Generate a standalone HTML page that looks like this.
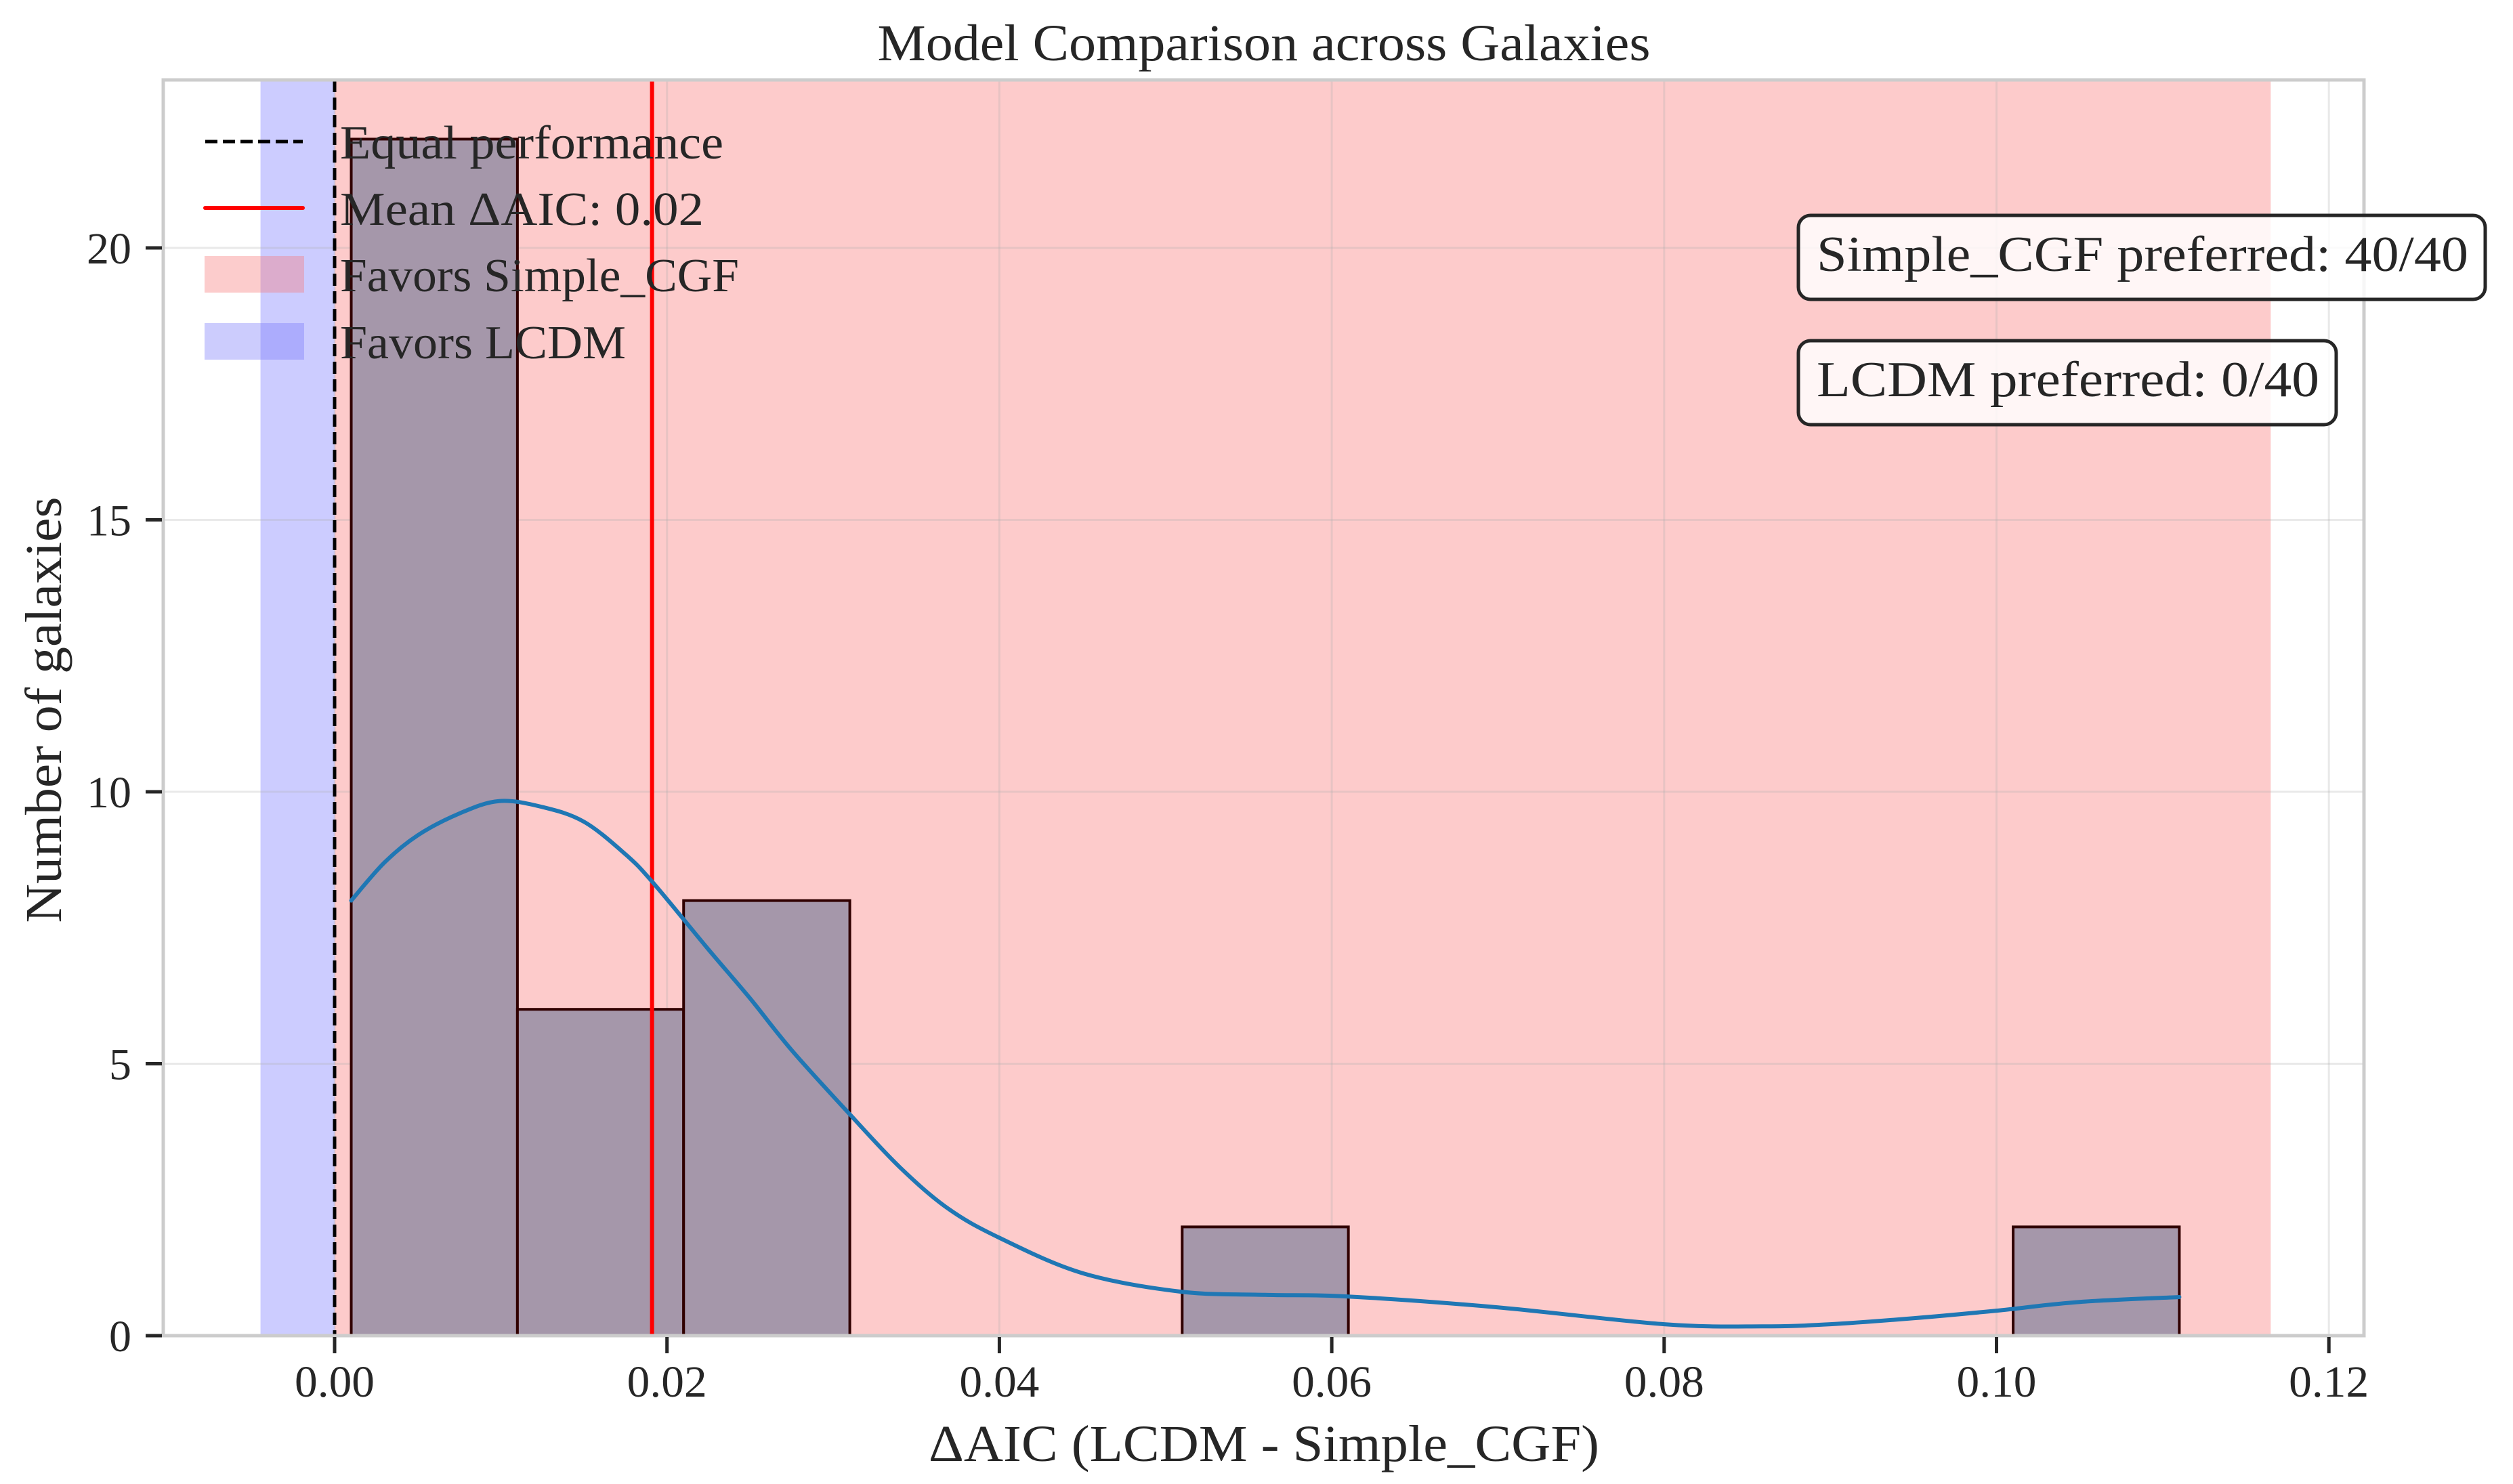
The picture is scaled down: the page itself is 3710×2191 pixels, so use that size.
<!DOCTYPE html>
<html><head><meta charset="utf-8"><style>
html,body{margin:0;padding:0;background:#fff}
svg{display:block}
text{font-family:"Liberation Serif","DejaVu Serif",serif;fill:#262626}
</style></head><body>
<svg id="chart" xmlns="http://www.w3.org/2000/svg" width="3710" height="2191" viewBox="0 0 3710 2191">
<rect x="0" y="0" width="3710" height="2191" fill="#fff"/>
<g id="plot"></g>
</svg>
<script>
const binEdges = [0.001, 0.011, 0.021, 0.031, 0.041, 0.051, 0.061, 0.071, 0.081, 0.091, 0.101, 0.111];
const counts = [22, 6, 8, 0, 0, 2, 0, 0, 0, 0, 2];
const kdeX = [0.001, 0.003, 0.005, 0.0075, 0.0099, 0.0125, 0.015, 0.0175, 0.0191, 0.0225, 0.025, 0.0275, 0.031, 0.034, 0.0369, 0.04, 0.045, 0.0509, 0.056, 0.061, 0.07, 0.08, 0.0859, 0.09, 0.095, 0.1, 0.105, 0.111];
const kdeY = [8.0, 8.7, 9.2, 9.6, 9.83, 9.72, 9.45, 8.85, 8.35, 7.1, 6.2, 5.25, 4.07, 3.1, 2.34, 1.8, 1.15, 0.81, 0.75, 0.72, 0.52, 0.21, 0.17, 0.21, 0.32, 0.46, 0.62, 0.71];
const meanValue = 0.0191;
const blueSpan = [-0.00446, 0];
const redSpan = [0, 0.1165];
const xTicks = [0, 0.02, 0.04, 0.06, 0.08, 0.10, 0.12];
const xTickLabels = ["0.00", "0.02", "0.04", "0.06", "0.08", "0.10", "0.12"];
const yTicks = [0, 5, 10, 15, 20];
const yTickLabels = ["0", "5", "10", "15", "20"];

const L = 241, R = 3490, T = 118, B = 1972;
const X0 = 494, XPER = 24535;
const YPER = 80.3;
function xs(v){ return X0 + v * XPER; }
function ys(v){ return B - v * YPER; }

const NS = "http://www.w3.org/2000/svg";
const g = document.getElementById('plot');
function mk(tag, attrs, parent){
  const e = document.createElementNS(NS, tag);
  for (const k in attrs) e.setAttribute(k, attrs[k]);
  (parent || g).appendChild(e);
  return e;
}

let e = mk('rect', {x: xs(blueSpan[0]), y: T, width: xs(blueSpan[1]) - xs(blueSpan[0]), height: B - T, fill: '#ccccff'});


e = mk('rect', {x: xs(redSpan[0]), y: T, width: xs(redSpan[1]) - xs(redSpan[0]), height: B - T, fill: '#fdcbcb'});



xTicks.forEach((t) => {
  const l = mk('line', {x1: xs(t), x2: xs(t), y1: T, y2: B, stroke: 'rgba(176,176,176,0.28)', 'stroke-width': 3});
  
  
});
yTicks.forEach((t) => {
  const l = mk('line', {x1: L, x2: R, y1: ys(t), y2: ys(t), stroke: 'rgba(176,176,176,0.28)', 'stroke-width': 3});
  
  
});

counts.forEach((c, i) => {
  if (c <= 0) return;
  const x1 = xs(binEdges[i]), x2 = xs(binEdges[i + 1]);
  const r = mk('rect', {x: x1, y: ys(c), width: x2 - x1, height: ys(0) - ys(c), fill: '#a597aa', stroke: '#300000', 'stroke-width': 4});
  
  
});

e = mk('line', {x1: xs(0), x2: xs(0), y1: T, y2: B, stroke: '#000', 'stroke-width': 5, 'stroke-dasharray': '18 8'});


e = mk('line', {x1: xs(meanValue), x2: xs(meanValue), y1: T, y2: B, stroke: '#ff0000', 'stroke-width': 6});



const P = kdeX.map((x, i) => [xs(x), ys(kdeY[i])]);
let d = 'M' + P[0][0].toFixed(1) + ',' + P[0][1].toFixed(1);
for (let i = 0; i < P.length - 1; i++) {
  const p0 = P[Math.max(0, i - 1)], p1 = P[i], p2 = P[i + 1], p3 = P[Math.min(P.length - 1, i + 2)];
  const c1x = p1[0] + (p2[0] - p0[0]) / 6, c1y = p1[1] + (p2[1] - p0[1]) / 6;
  const c2x = p2[0] - (p3[0] - p1[0]) / 6, c2y = p2[1] - (p3[1] - p1[1]) / 6;
  d += 'C' + c1x.toFixed(1) + ',' + c1y.toFixed(1) + ' ' + c2x.toFixed(1) + ',' + c2y.toFixed(1) + ' ' + p2[0].toFixed(1) + ',' + p2[1].toFixed(1);
}
e = mk('path', {d: d, fill: 'none', stroke: '#1f77b4', 'stroke-width': 6, 'stroke-linejoin': 'round', 'stroke-linecap': 'round'});



e = mk('rect', {x: L, y: T, width: R - L, height: B - T, fill: 'none', stroke: '#cccccc', 'stroke-width': 5});



xTicks.forEach((t, i) => {
  const l = mk('line', {x1: xs(t), x2: xs(t), y1: B + 2, y2: B + 26, stroke: '#262626', 'stroke-width': 5});
  
  
  const tx = mk('text', {x: xs(t), y: 2062, 'font-size': 66, 'text-anchor': 'middle', textLength: 118, lengthAdjust: 'spacingAndGlyphs'});
  tx.textContent = xTickLabels[i];
  
  
});
yTicks.forEach((t, i) => {
  const l = mk('line', {x1: L - 26, x2: L - 2, y1: ys(t), y2: ys(t), stroke: '#262626', 'stroke-width': 5});
  
  
  const tx = mk('text', {x: 194, y: ys(t) + 23, 'font-size': 66, 'text-anchor': 'end'});
  tx.textContent = yTickLabels[i];
  
  
});

e = mk('text', {x: 1866, y: 89, 'font-size': 76, 'text-anchor': 'middle', textLength: 1141, lengthAdjust: 'spacingAndGlyphs'});
e.textContent = 'Model Comparison across Galaxies';


e = mk('text', {x: 1866, y: 2157, 'font-size': 76, 'text-anchor': 'middle', textLength: 990, lengthAdjust: 'spacingAndGlyphs'});
e.textContent = 'ΔAIC (LCDM - Simple_CGF)';


e = mk('text', {x: 0, y: 0, 'font-size': 76, 'text-anchor': 'middle', transform: 'translate(90,1048) rotate(-90)', textLength: 629, lengthAdjust: 'spacingAndGlyphs'});
e.textContent = 'Number of galaxies';



const legY = [209, 307, 405, 504];
e = mk('line', {x1: 303, x2: 447, y1: legY[0], y2: legY[0], stroke: '#000', 'stroke-width': 5, 'stroke-dasharray': '18 8'});


e = mk('line', {x1: 303, x2: 447, y1: legY[1], y2: legY[1], stroke: '#ff0000', 'stroke-width': 6, 'stroke-linecap': 'round'});


e = mk('rect', {x: 302, y: legY[2] - 27, width: 147, height: 54, fill: 'rgba(248,120,120,0.38)'});


e = mk('rect', {x: 302, y: legY[3] - 27, width: 147, height: 54, fill: 'rgba(120,120,250,0.38)'});


const legTexts = ['Equal performance', 'Mean ΔAIC: 0.02', 'Favors Simple_CGF', 'Favors LCDM'];
const legW = [566, 537, 589, 422];
legTexts.forEach((s, i) => {
  const t = mk('text', {x: 502, y: legY[i] + 25, 'font-size': 70, textLength: legW[i], lengthAdjust: 'spacingAndGlyphs'});
  t.textContent = s;
  
  
});

e = mk('rect', {x: 2655, y: 318, width: 1014, height: 124, rx: 18, fill: 'rgba(255,255,255,0.82)', stroke: '#262626', 'stroke-width': 5});


e = mk('text', {x: 2682, y: 400, 'font-size': 74, textLength: 962, lengthAdjust: 'spacingAndGlyphs'});
e.textContent = 'Simple_CGF preferred: 40/40';


e = mk('rect', {x: 2655, y: 503, width: 794, height: 124, rx: 18, fill: 'rgba(255,255,255,0.82)', stroke: '#262626', 'stroke-width': 5});


e = mk('text', {x: 2682, y: 585, 'font-size': 74, textLength: 742, lengthAdjust: 'spacingAndGlyphs'});
e.textContent = 'LCDM preferred: 0/40';


</script>
</body></html>
